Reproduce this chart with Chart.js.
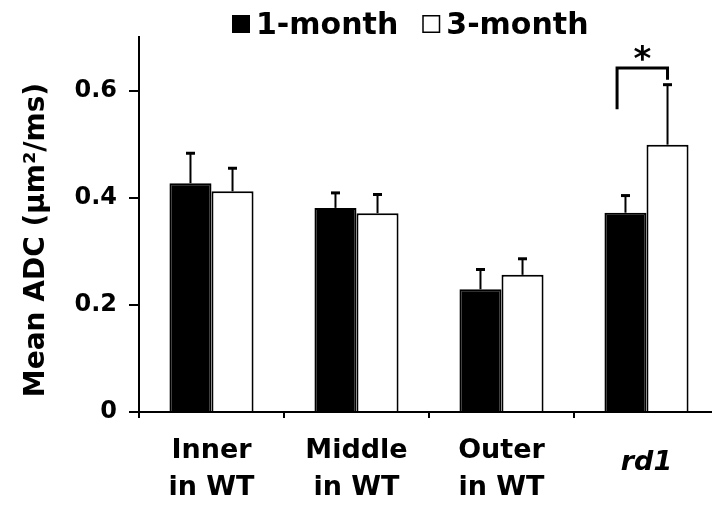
<!DOCTYPE html>
<html>
<head>
<meta charset="utf-8">
<script src="https://cdn.jsdelivr.net/npm/chart.js@4.4.0/dist/chart.umd.min.js"></script>
<style>
  html, body { margin: 0; padding: 0; background: #fff; overflow: hidden; }
  #wrap { width: 720px; height: 505px; }
</style>
</head>
<body>
<div id="wrap"><canvas id="myChart" width="720" height="505"></canvas></div>
<script>
const categories = [['Inner', 'in WT'], ['Middle', 'in WT'], ['Outer', 'in WT'], ['rd1']];
const seriesNames = ['1-month', '3-month'];
const oneMonth = [0.427, 0.381, 0.229, 0.372];
const threeMonth = [0.412, 0.371, 0.256, 0.499];
const oneMonthErr = [0.056, 0.028, 0.037, 0.032];
const threeMonthErr = [0.043, 0.035, 0.030, 0.112];
const yTicks = [0, 0.2, 0.4, 0.6];
const yTitle = 'Mean ADC (\u00b5m\u00b2/ms)';
// significance bracket between the two rd1 bars
const bracket = { category: 3, top: 0.642, leftEnd: 0.565, rightEnd: 0.62, label: '*' };

const FONT = '"DejaVu Sans", Arial, sans-serif';

const errorBars = {
  id: 'errorBars',
  afterDatasetsDraw(chart) {
    const ctx = chart.ctx;
    const y = chart.scales.y;
    const errs = [oneMonthErr, threeMonthErr];
    ctx.save();
    ctx.strokeStyle = '#000';
    chart.data.datasets.forEach((ds, di) => {
      chart.getDatasetMeta(di).data.forEach((bar, i) => {
        const top = y.getPixelForValue(ds.data[i] + errs[di][i]);
        ctx.lineWidth = 2;
        ctx.beginPath();
        ctx.moveTo(bar.x, bar.y);
        ctx.lineTo(bar.x, top);
        ctx.stroke();
        ctx.lineWidth = 3;
        ctx.beginPath();
        ctx.moveTo(bar.x - 4.5, top);
        ctx.lineTo(bar.x + 4.5, top);
        ctx.stroke();
      });
    });

    // bracket + star
    const b1 = chart.getDatasetMeta(0).data[bracket.category];
    const b2 = chart.getDatasetMeta(1).data[bracket.category];
    const lx = b1.x - b1.width * 0.2;
    const rx = b2.x;
    const ty = y.getPixelForValue(bracket.top);
    ctx.lineWidth = 3;
    ctx.beginPath();
    ctx.moveTo(lx, y.getPixelForValue(bracket.leftEnd));
    ctx.lineTo(lx, ty);
    ctx.lineTo(rx, ty);
    ctx.lineTo(rx, y.getPixelForValue(bracket.rightEnd));
    ctx.stroke();
    ctx.fillStyle = '#000';
    ctx.font = 'bold 34px ' + FONT;
    ctx.textAlign = 'center';
    ctx.textBaseline = 'alphabetic';
    ctx.fillText(bracket.label, (lx + rx) / 2, ty + 2);
    ctx.restore();
  },
  afterDraw(chart) {
    const ctx = chart.ctx;
    const x = chart.scales.x;
    ctx.save();
    ctx.fillStyle = '#000';
    ctx.textAlign = 'center';
    ctx.textBaseline = 'middle';
    categories.forEach((lab, i) => {
      const cx = x.getPixelForValue(i);
      if (lab.length === 1) {
        ctx.font = 'italic bold 27px ' + FONT;
        ctx.fillText(lab[0], cx, 463);
      } else {
        ctx.font = 'bold 27px ' + FONT;
        ctx.fillText(lab[0], cx, 451);
        ctx.fillText(lab[1], cx, 488);
      }
    });

    // y title
    ctx.save();
    ctx.translate(37, 240);
    ctx.rotate(-Math.PI / 2);
    ctx.font = 'bold 28px ' + FONT;
    ctx.fillText(yTitle, 0, 0);
    ctx.restore();

    // legend
    ctx.font = 'bold 30px ' + FONT;
    ctx.textAlign = 'left';
    ctx.textBaseline = 'alphabetic';
    let lx = 232;
    seriesNames.forEach((name, i) => {
      ctx.lineWidth = 1.5;
      ctx.strokeStyle = '#000';
      ctx.fillStyle = i === 0 ? '#000' : '#fff';
      ctx.fillRect(lx, 15, 18, 18);
      ctx.strokeRect(lx + 0.75, 15.75, 16.5, 16.5);
      ctx.fillStyle = '#000';
      ctx.fillText(name, lx + 24, 34);
      lx += 24 + ctx.measureText(name).width + 24;
    });
    ctx.restore();
  }
};

const updateChart = () => {
  const ctx = document.getElementById('myChart').getContext('2d');
  new Chart(ctx, {
    type: 'bar',
    data: {
      labels: categories,
      datasets: [{
        label: seriesNames[0],
        data: oneMonth,
        backgroundColor: '#000',
        borderColor: '#000',
        borderWidth: 2
      }, {
        label: seriesNames[1],
        data: threeMonth,
        backgroundColor: '#fff',
        borderColor: '#000',
        borderWidth: 2
      }]
    },
    options: {
      responsive: false,
      animation: false,
      events: [],
      layout: { padding: { top: 37, right: 1, left: 0, bottom: 0 } },
      datasets: { bar: { categoryPercentage: 0.58, barPercentage: 1 } },
      plugins: { legend: { display: false }, tooltip: { enabled: false } },
      scales: {
        x: {
          grid: { drawOnChartArea: false, offset: true, color: '#000', lineWidth: 2, tickLength: 6 },
          border: { color: '#000', width: 2 },
          ticks: { display: false },
          afterFit: s => { s.height = 93; }
        },
        y: {
          min: 0,
          max: 0.7,
          afterBuildTicks: s => { s.ticks = yTicks.map(v => ({ value: v })); },
          grid: { drawOnChartArea: false, color: '#000', lineWidth: 2, tickLength: 10 },
          border: { color: '#000', width: 2 },
          ticks: {
            color: '#000',
            padding: 12,
            font: { family: FONT, size: 24, weight: 'bold' },
            callback: v => String(v)
          },
          afterFit: s => { s.width = 139; }
        }
      }
    },
    plugins: [errorBars]
  });
};

window.addEventListener('load', () => {
  updateChart();
});
</script>
</body>
</html>
